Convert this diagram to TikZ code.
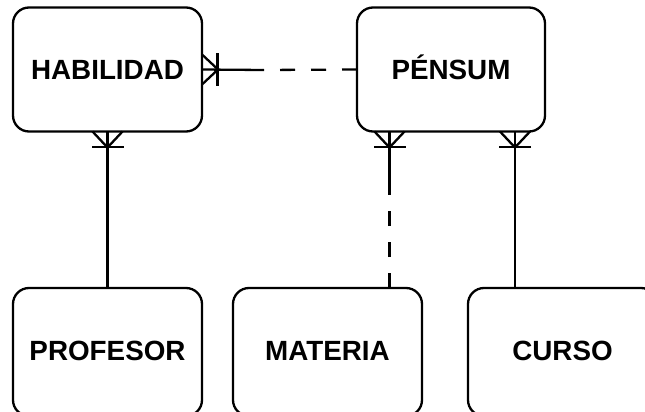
\documentclass[tikz,border=0pt]{standalone}
\usepackage{fontspec}
\setmainfont{Liberation Sans}
\begin{document}
\begin{tikzpicture}[
  x=1pt, y=-1pt,
  er line/.style={line width=2.3pt, black},
  entity/.style={draw, er line, rectangle, rounded corners=16pt,
    minimum width=189pt, minimum height=124pt, outer sep=0pt,
    text height=20pt, text depth=0pt,
    font=\fontsize{27.8}{33}\selectfont\bfseries},
  lower entity/.style={entity, minimum height=128pt, text depth=4pt},
  optional/.style={er line, dash pattern=on 15pt off 16pt},
  crowfoot/.pic={
    \draw[er line] (0,-15) -- (16,0) -- (0,15);
    \draw[er line] (15.5,-16) -- (15.5,16);
  }
]
\useasboundingbox (0,0) rectangle (645,412);
\clip (0,0) rectangle (645,412);

% entities
\node[entity] (hab) at (107.5,69.5) {HABILIDAD};
\node[entity, minimum width=188pt] (pen) at (451,69.5) {PÉNSUM};
\node[lower entity] (prof) at (107.5,352) {PROFESOR};
\node[lower entity] (mat) at (327.5,352) {MATERIA};
\node[lower entity] (cur) at (562.5,352) {CURSO};

% x positions of the vertical links under PÉNSUM
\coordinate (xmat) at (389.5,0);
\coordinate (xcur) at (515,0);
% points where a link turns from solid to dashed
\coordinate (hp) at (263,70);
\coordinate (pm) at (389.5,195);

% HABILIDAD -- PÉNSUM
\draw[er line] (hab.east) -- (hp);
\draw[optional] (pen.west) -- (hp);
\pic at (hab.east) {crowfoot};

% HABILIDAD -- PROFESOR
\draw[er line] (hab.south) -- (prof.north);
\pic[rotate=-90] at (hab.south) {crowfoot};

% PÉNSUM -- MATERIA
\draw[er line] (pen.south -| xmat) -- (pm);
\draw[optional] (mat.north -| xmat) -- (pm);
\pic[rotate=-90] at (pen.south -| xmat) {crowfoot};

% PÉNSUM -- CURSO
\draw[er line] (pen.south -| xcur) -- (cur.north -| xcur);
\pic[rotate=-90] at (pen.south -| xcur) {crowfoot};
\end{tikzpicture}
\end{document}
